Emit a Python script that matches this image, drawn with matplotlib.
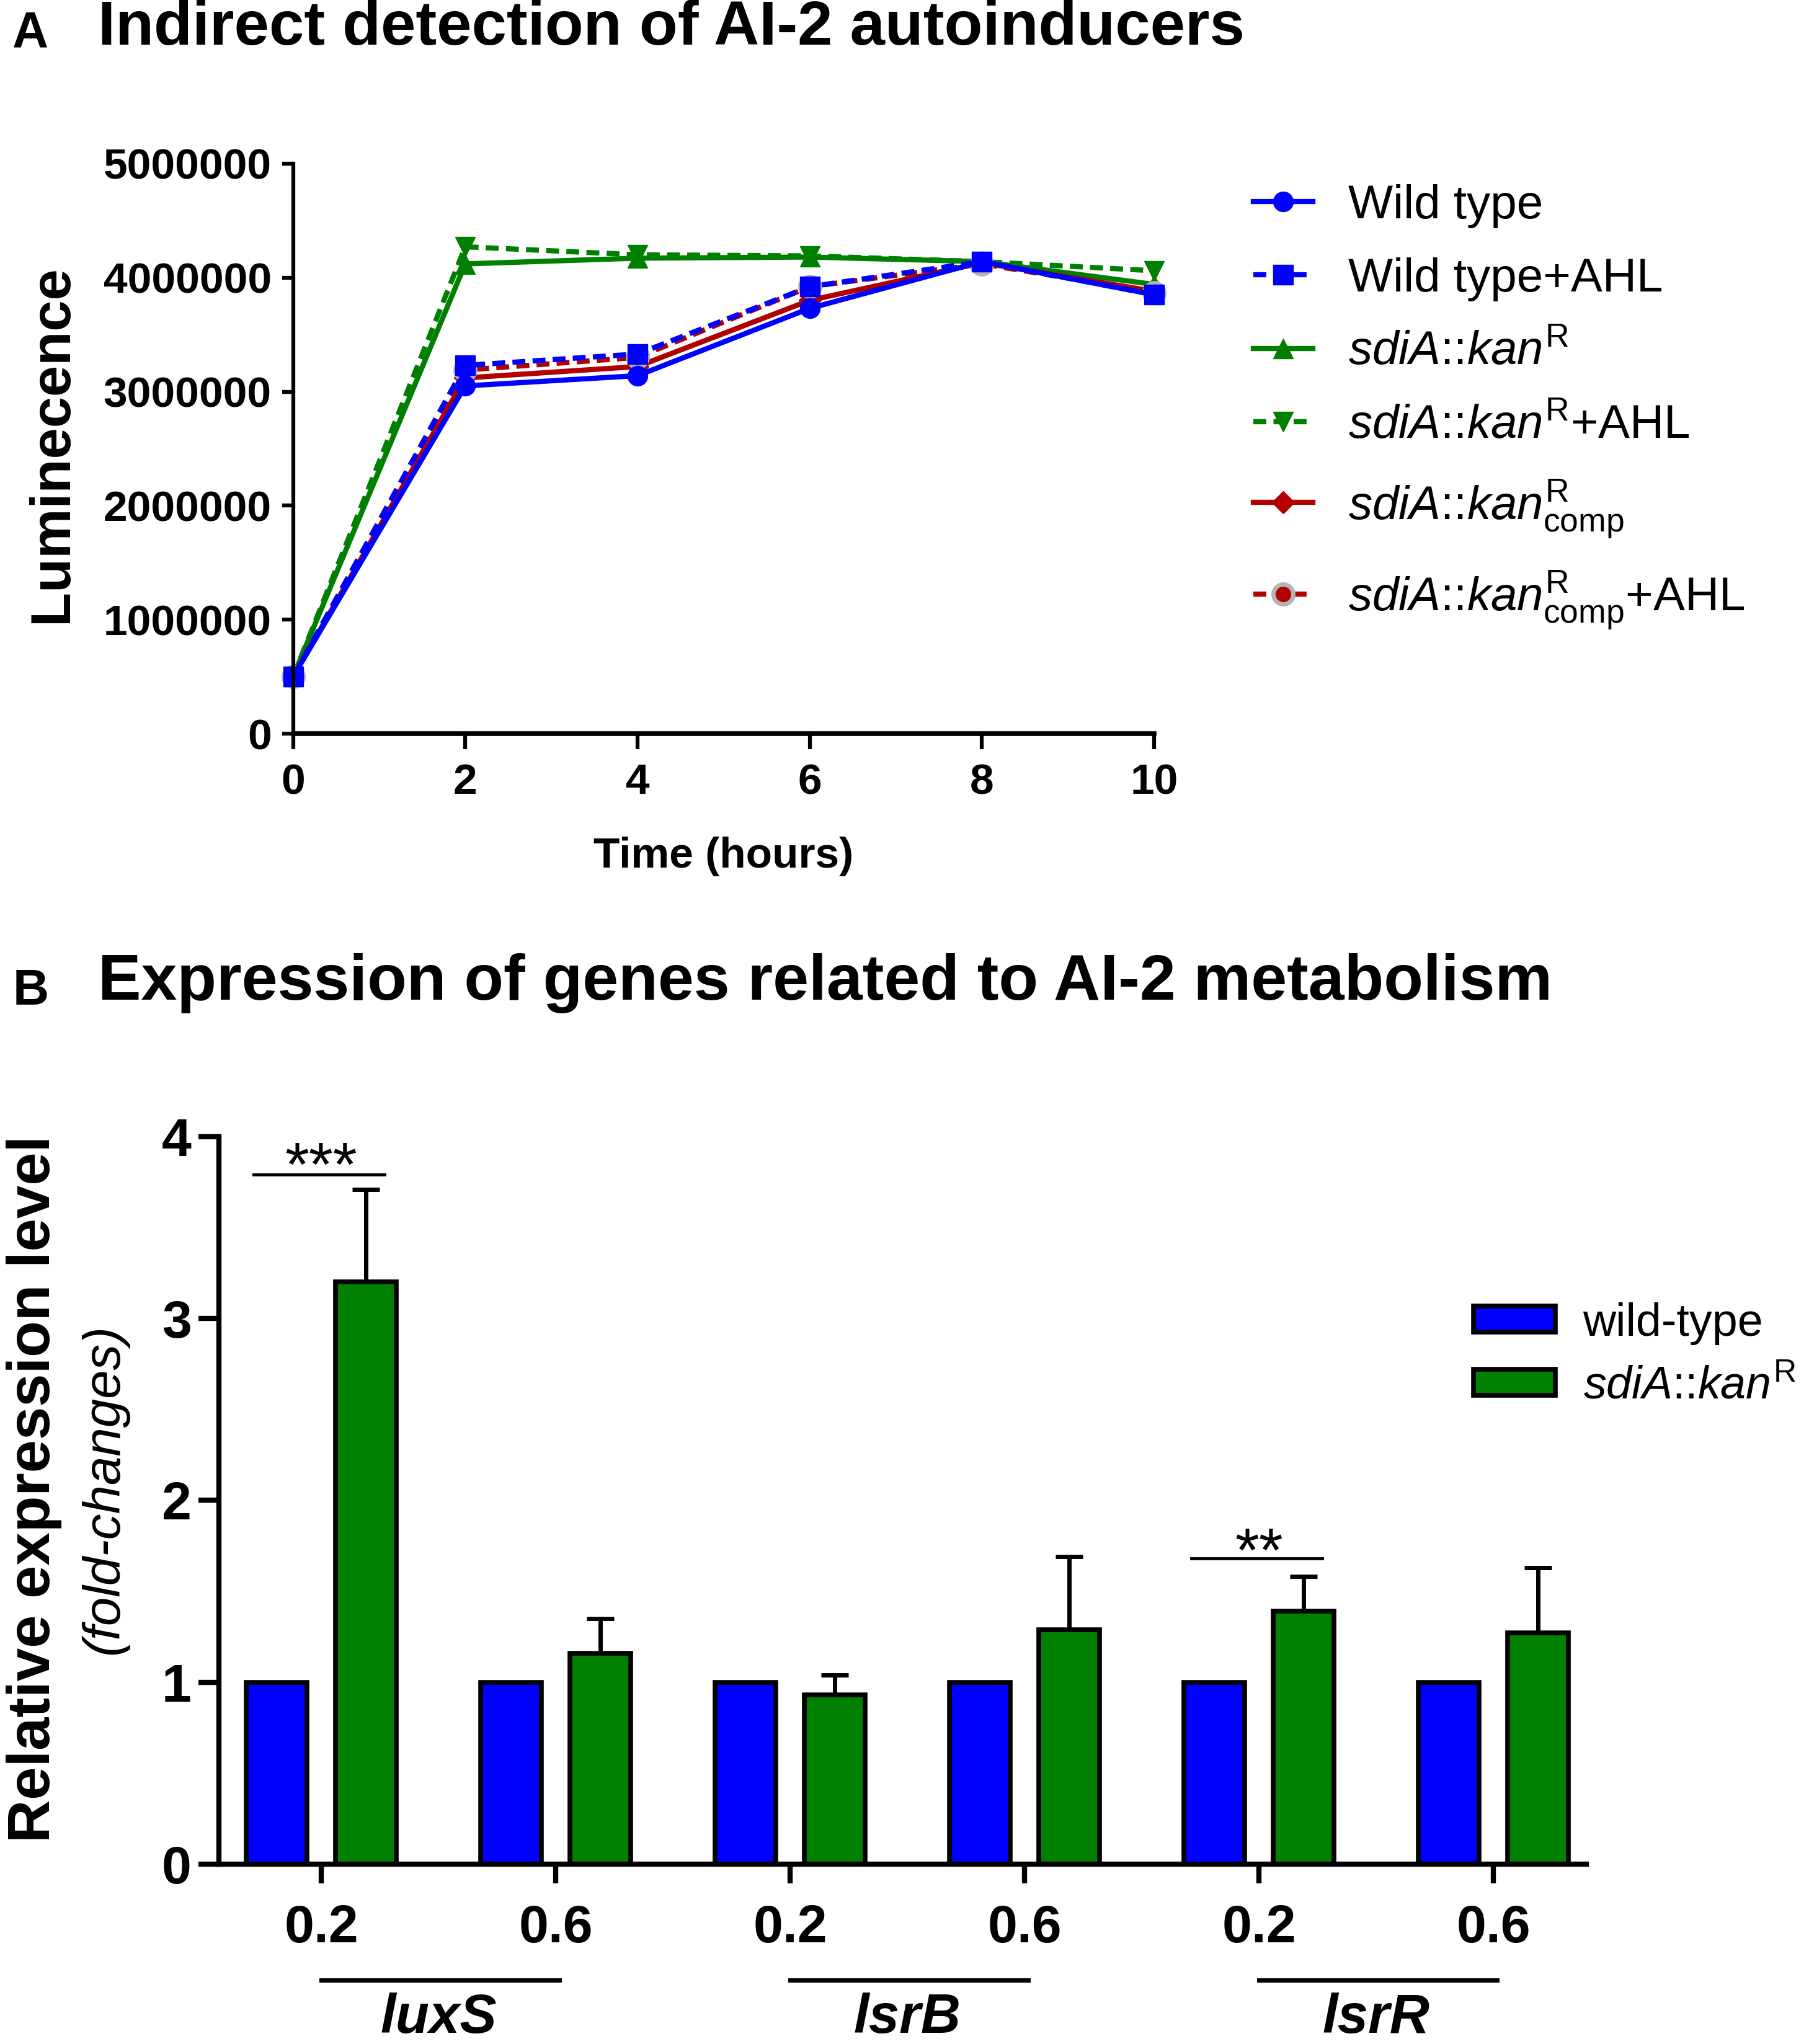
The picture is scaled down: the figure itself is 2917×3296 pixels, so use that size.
import numpy as np
import matplotlib
matplotlib.use("Agg")
import matplotlib.pyplot as plt

plt.rcParams['font.family'] = ['Liberation Sans', 'DejaVu Sans']
plt.rcParams['mathtext.fontset'] = 'custom'
plt.rcParams['mathtext.rm'] = 'Liberation Sans'
plt.rcParams['mathtext.it'] = 'Liberation Sans:italic'
plt.rcParams['mathtext.bf'] = 'Liberation Sans:bold'

# ---- panel A data (luminescence vs time) ----
hours = [0, 2, 4, 6, 8, 10]
wild_type = [0.50e6, 3.05e6, 3.14e6, 3.73e6, 4.14e6, 3.85e6]
wild_type_ahl = [0.50e6, 3.23e6, 3.33e6, 3.92e6, 4.14e6, 3.85e6]
sdia = [0.50e6, 4.12e6, 4.17e6, 4.18e6, 4.14e6, 3.94e6]
sdia_ahl = [0.50e6, 4.27e6, 4.20e6, 4.19e6, 4.14e6, 4.06e6]
sdia_comp = [0.50e6, 3.12e6, 3.22e6, 3.80e6, 4.13e6, 3.88e6]
sdia_comp_ahl = [0.50e6, 3.19e6, 3.30e6, 3.92e6, 4.12e6, 3.87e6]
lum_ticks = [0, 1000000, 2000000, 3000000, 4000000, 5000000]
lum_ticklabels = ['0', '1000000', '2000000', '3000000', '4000000', '5000000']

# ---- panel B data (relative expression) ----
od_labels = ['0.2', '0.6', '0.2', '0.6', '0.2', '0.6']
genes = ['luxS', 'lsrB', 'lsrR']
wt_expr = [1.0, 1.0, 1.0, 1.0, 1.0, 1.0]
mut_expr = [3.20, 1.16, 0.93, 1.29, 1.39, 1.27]
mut_err = [0.51, 0.19, 0.11, 0.40, 0.19, 0.36]
sig_groups = [0, 4]
sig_marks = ['***', '**']
sig_level = [3.79, 1.68]
sig_star_y = [3.92, 1.80]

BLUE = '#0000ff'
GREEN = '#007f00'
RED = '#b00000'

fig = plt.figure(figsize=(29.17, 32.96), dpi=100)

# ================= panel A =================
axA = fig.add_axes([0.162, 0.641, 0.476, 0.279])
dash = (2.5, 1.4)
lw = 6
ms = 23
l3, = axA.plot(hours, sdia, color=GREEN, lw=lw, marker='^', ms=ms, clip_on=False)
l4, = axA.plot(hours, sdia_ahl, color=GREEN, lw=lw, marker='v', ms=ms, dashes=dash, clip_on=False)
l5, = axA.plot(hours, sdia_comp, color=RED, lw=lw, marker='D', ms=ms * 0.8, clip_on=False)
l6, = axA.plot(hours, sdia_comp_ahl, color=RED, lw=lw, marker='o', ms=ms, mfc=RED,
               mec='#b4b4b4', mew=5, dashes=dash, clip_on=False)
l1, = axA.plot(hours, wild_type, color=BLUE, lw=lw, marker='o', ms=ms, clip_on=False)
l2, = axA.plot(hours, wild_type_ahl, color=BLUE, lw=lw, marker='s', ms=ms, dashes=dash, clip_on=False)

axA.set_xlim(0, 10)
axA.set_ylim(0, 5e6)
axA.set_xticks(hours)
axA.set_xticklabels([str(h) for h in hours])
axA.set_yticks(lum_ticks)
axA.set_yticklabels(lum_ticklabels)
axA.spines['right'].set_visible(False)
axA.spines['top'].set_visible(False)
axA.spines['left'].set_linewidth(4.5)
axA.spines['bottom'].set_linewidth(5.5)
axA.tick_params(axis='both', direction='out', width=4.5, labelsize=50)
axA.tick_params(axis='y', length=13, pad=12)
axA.tick_params(axis='x', length=18, pad=16)
for t in axA.get_xticklabels() + axA.get_yticklabels():
    t.set_fontweight('bold')

fig.text(0.029, 0.783, 'Luminecence', rotation=90, ha='center', va='center',
         fontsize=65, fontweight='bold')
fig.text(0.400, 0.581, 'Time (hours)', ha='center', va='center',
         fontsize=50, fontweight='bold')

labelsA = ['Wild type', 'Wild type+AHL',
           r'$\mathit{sdiA}$::$\mathit{kan}^{\mathrm{R}}$',
           r'$\mathit{sdiA}$::$\mathit{kan}^{\mathrm{R}}$+AHL',
           r'$\mathit{sdiA}$::$\mathit{kan}^{\mathrm{R}}_{\mathrm{comp}}$',
           r'$\mathit{sdiA}$::$\mathit{kan}^{\mathrm{R}}_{\mathrm{comp}}$+AHL']
fig.legend([l1, l2, l3, l4, l5, l6], labelsA, loc='upper left',
           bbox_to_anchor=(0.693, 0.910), frameon=False, fontsize=55,
           handlelength=1.25, handletextpad=0.75, labelspacing=0.62,
           numpoints=1, borderaxespad=0, borderpad=0)

fig.text(0.007, 0.9834, 'A', fontsize=58, fontweight='bold', ha='left', va='center')
fig.text(0.054, 0.986, 'Indirect detection of AI-2 autoinducers', fontsize=73,
         fontweight='bold', ha='left', va='center')

# ================= panel B =================
axB = fig.add_axes([0.121, 0.088, 0.756, 0.356])
x = np.arange(len(od_labels))
bw = 0.26
off = 0.19
bwt = axB.bar(x - off, wt_expr, bw, color=BLUE, edgecolor='black', linewidth=5.5, zorder=2)
bmut = axB.bar(x + off, mut_expr, bw, color=GREEN, edgecolor='black', linewidth=5.5, zorder=2)
axB.errorbar(x + off, mut_expr, yerr=[np.zeros(len(mut_err)), mut_err], fmt='none',
             ecolor='black', elinewidth=5, capsize=16, capthick=5, zorder=1)

axB.set_xlim(-0.437, 5.397)
axB.set_ylim(0, 4)
axB.set_yticks([0, 1, 2, 3, 4])
axB.set_xticks(x)
axB.set_xticklabels(od_labels)
axB.spines['right'].set_visible(False)
axB.spines['top'].set_visible(False)
axB.spines['left'].set_linewidth(6)
axB.spines['bottom'].set_linewidth(6)
axB.tick_params(axis='both', direction='out', width=6, labelsize=62)
axB.tick_params(axis='y', length=24, pad=8)
axB.tick_params(axis='x', length=22, pad=24)
for t in axB.get_xticklabels() + axB.get_yticklabels():
    t.set_fontweight('bold')

# gene underlines and names
trans = axB.get_xaxis_transform()
for i, g in enumerate(genes):
    x0 = x[2 * i]
    x1 = x[2 * i + 1]
    axB.plot([x0, x1 + 0.015], [-0.159, -0.159], color='black', lw=5, transform=trans, clip_on=False)
    axB.text((x0 + x1) / 2, -0.212, g, transform=trans, ha='center', va='center',
             fontsize=64, fontweight='bold', fontstyle='italic')

# significance
for g, m, h, sy in zip(sig_groups, sig_marks, sig_level, sig_star_y):
    axB.plot([x[g] - 0.29, x[g] + 0.27], [h, h], color='black', lw=3.5)
    axB.text(x[g], sy - 0.19, m, ha='center', va='baseline', fontsize=72)

fig.text(0.0187, 0.2715, 'Relative expression level', rotation=90, ha='center', va='center',
         fontsize=69, fontweight='bold')
fig.text(0.0576, 0.2715, '(fold-changes)', rotation=90, ha='center', va='center',
         fontsize=60, fontstyle='italic')

fig.legend([bwt, bmut], ['wild-type', r'$\mathit{sdiA}$::$\mathit{kan}^{\mathrm{R}}$'],
           loc='upper left', bbox_to_anchor=(0.8145, 0.363), frameon=False, fontsize=53,
           handlelength=1.8, handleheight=0.5, handletextpad=0.6, labelspacing=0.44,
           borderaxespad=0, borderpad=0)

fig.text(0.007, 0.515, 'B', fontsize=58, fontweight='bold', ha='left', va='center')
fig.text(0.054, 0.519, 'Expression of genes related to AI-2 metabolism', fontsize=75,
         fontweight='bold', ha='left', va='center')

fig.savefig('out.png', dpi=100)
